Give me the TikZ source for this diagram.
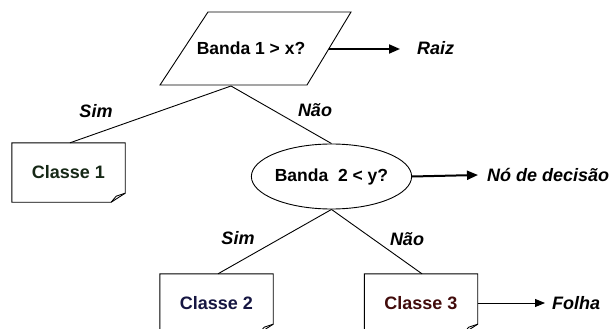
\documentclass[tikz,border=0pt]{standalone}
\usepackage{fontspec}
\setmainfont{Liberation Sans}
\usetikzlibrary{shapes.geometric,arrows.meta}
\definecolor{cgreen}{RGB}{22,40,22}
\definecolor{cnavy}{RGB}{22,22,66}
\definecolor{cred}{RGB}{66,12,12}
\newcommand{\docoutline}[1]{%
  \draw[edge] (#1.north west) -- (#1.north east) -- ([yshift=9pt]#1.south east)
     -- ([xshift=-14pt]#1.south east) -- (#1.south west) -- cycle;
  \draw[edge] ([xshift=-14pt]#1.south east) -- ([xshift=-9pt,yshift=6pt]#1.south east)
     -- ([yshift=9pt]#1.south east);}
\begin{document}
\begin{tikzpicture}[x=1pt,y=1pt,
  edge/.style={line width=0.9pt,black},
  txt/.style={font=\fontsize{17.5}{20}\selectfont\bfseries,inner sep=0pt},
  lbl/.style={font=\fontsize{18}{20}\selectfont\bfseries\itshape,inner sep=0pt},
  docbox/.style={minimum width=113pt,minimum height=59pt,inner sep=0pt,font=\fontsize{18}{20}\selectfont\bfseries},
  arr/.style={line width=2pt,-{Triangle[length=11pt,width=9pt]}},
  thinarr/.style={line width=1pt,-{Triangle[length=10pt,width=8pt]}}]
\useasboundingbox (0,0) rectangle (611,-329);
\clip (0,0) rectangle (611,-329);
\fill[white] (0,0) rectangle (611,-329);
% root parallelogram
\draw[edge] (208,-12) coordinate (ptl) -- (351,-12) coordinate (ptr)
  -- (307,-85) coordinate (pbr) -- (160,-85) coordinate (pbl) -- cycle;
\node[txt] (root) at (251,-48) {Banda 1 > x?};
\coordinate (rootb) at (231,-86);
\coordinate (rootr) at (329,-49);
% decision ellipse
\node[draw,edge,ellipse,minimum width=157pt,minimum height=65pt,inner sep=0pt,
  font=\fontsize{17.5}{20}\selectfont\bfseries] (dec) at (331.5,-176.5) {Banda\ \ 2 < y?};
% class boxes
\node[docbox,text=cgreen] (c1) at (68.5,-172.5) {Classe 1};
\node[docbox,text=cnavy] (c2) at (216.5,-303.5) {Classe 2};
\node[docbox,text=cred] (c3) at (421,-303.5) {Classe 3};
\docoutline{c1}
\docoutline{c2}
\docoutline{c3}
% tree edges
\draw[edge] (rootb) -- ([xshift=1.5pt]c1.north);
\draw[edge] (rootb) -- (dec.north);
\draw[edge] (dec.south) -- ([xshift=1.5pt]c2.north);
\draw[edge] (dec.south) -- ([xshift=1pt]c3.north);
% branch labels
\node[lbl] (s1) at (96,-111) {Sim};
\node[lbl] (n1) at (315,-110) {Não};
\node[lbl] (s2) at (238,-238) {Sim};
\node[lbl] (n2) at (407,-239) {Não};
% annotation arrows
\node[lbl,anchor=west] (raiz) at (417,-48) {Raiz};
\node[lbl,anchor=west] (nodec) at (487,-175) {Nó de decisão};
\node[lbl,anchor=west] (folha) at (552,-303) {Folha};
\coordinate (a1) at (400,-49);
\coordinate (a2) at (478,-175);
\coordinate (a3) at (545,-303);
\draw[arr] (rootr) -- (a1);
\draw[arr] (dec.east) -- (a2);
\draw[thinarr] (c3.east |- a3) -- (a3);
\end{tikzpicture}
\end{document}
